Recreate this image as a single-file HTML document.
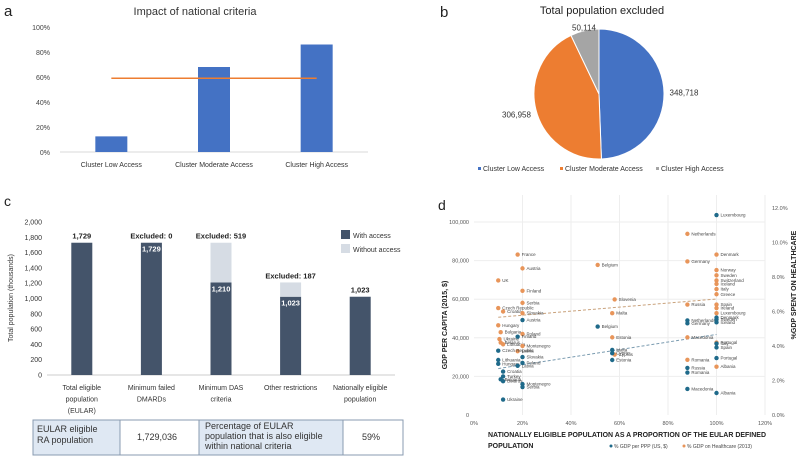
<!DOCTYPE html>
<html><head><meta charset="utf-8">
<style>
body{margin:0;background:#fff;width:800px;height:462px;overflow:hidden;font-family:"Liberation Sans",sans-serif;}
svg{position:absolute;left:0;top:0;}
text{font-family:"Liberation Sans",sans-serif;}
</style></head>
<body>
<svg id="fig" width="800" height="462" viewBox="0 0 800 462" xmlns="http://www.w3.org/2000/svg"></svg>
<script>
// ---------- Panel a data ----------
const aCategories = ["Cluster Low Access","Cluster Moderate Access","Cluster High Access"];
const aValues = [12.5, 68, 86];
const aLineValue = 59;
const aTicks = [0,20,40,60,80,100];
// ---------- Panel b data ----------
const bCategories = ["Cluster Low Access","Cluster Moderate Access","Cluster High Access"];
const bValues = [348718, 306958, 50114];
const bLabels = ["348,718","306,958","50,114"];
// ---------- Panel c data ----------
const cCategories = [["Total eligible","population","(EULAR)"],["Minimum failed","DMARDs"],["Minimum DAS","criteria"],["Other restrictions"],["Nationally eligible","population"]];
const cWith = [1729, 1729, 1210, 1023, 1023];
const cWithout = [0, 0, 519, 187, 0];
const cTopLabels = ["1,729","Excluded: 0","Excluded: 519","Excluded: 187","1,023"];
const cTicks = [0,200,400,600,800,1000,1200,1400,1600,1800,2000];
// ---------- Panel d data ----------
const dBlueNames = ["Luxembourg","Netherlands","Germany","Denmark","Sweden","Iceland","Italy","Spain","Portugal","Albania","Russia","Romania","Macedonia","Belgium","Malta","Cyprus","Estonia","Austria","Finland","Czech Republic","Lithuania","Hungary","Slovakia","Poland","Latvia","Croatia","Turkey","Bulgaria","Belarus","Montenegro","Serbia","Ukraine"];
const dBlueX = [100,88,88,100,100,100,100,100,100,100,88,88,88,51,57,57,57,20,18,10,10,10,20,20,18,12,12,11,12,20,20,12];
const dBlueY = [103.6,49,47.5,50.5,49.5,48,37,35,29.5,11.4,24.4,22,13.5,45.8,33.7,32,28.5,49.2,40.6,33.3,28.5,26.5,30,27,25.5,22.5,20,18.5,17.5,16,14.5,8];
const dOrangeNames = ["Netherlands","Germany","Denmark","Norway","Sweden","Switzerland","Iceland","Italy","Greece","Russia","Spain","Ireland","Luxembourg","Macedonia","Portugal","Romania","Albania","Belgium","Slovenia","Malta","Estonia","Cyprus","France","Austria","UK","Finland","Serbia","Czech Republic","Croatia","Slovakia","Hungary","Bulgaria","Ukraine","Belarus","Lithuania","Poland","Montenegro","Latvia"];
const dOrangeX = [88,88,100,100,100,100,100,100,100,88,100,100,100,88,100,88,100,51,58,57,57,58,18,20,10,20,20,10,12,20,10,11,10.5,11,12,20,20,18];
const dOrangeY = [10.5,8.9,9.3,8.4,8.1,7.8,7.6,7.3,7.0,6.4,6.4,6.2,5.9,4.5,4.2,3.2,2.8,8.7,6.7,5.9,4.5,3.5,9.3,8.5,7.8,7.2,6.5,6.2,6.0,5.9,5.2,4.8,4.4,4.2,4.1,4.7,4.0,3.7];
const dXTicks = [0,20,40,60,80,100,120];
const dLeftTicks = [0,20000,40000,60000,80000,100000];
const dLeftTickLabels = ["0","20,000","40,000","60,000","80,000","100,000"];
const dRightTicks = [0,2,4,6,8,10,12];

const svg = document.getElementById('fig');
const NS = "http://www.w3.org/2000/svg";
function mk(tag, attrs, parent){const e=document.createElementNS(NS,tag);for(const k in attrs)e.setAttribute(k,attrs[k]);(parent||svg).appendChild(e);return e;}
function txt(s, attrs, parent){const e=mk('text',attrs,parent);e.textContent=s;return e;}

// ================= PANEL A =================
const ga = mk('g',{});


const aX0=60,aX1=368,aY0=152,aY100=27;
const ay=v=>aY0+(aY100-aY0)*v/100;
const aBand=(aX1-aX0)/aCategories.length;
const ax=i=>aX0+aBand*(i+0.5);
let t=txt('a',{x:4,y:16,'font-size':15,fill:'#222'},ga);

t=txt('Impact of national criteria',{x:195,y:15,'font-size':11,'text-anchor':'middle',fill:'#333'},ga);

aTicks.forEach(v=>{const l=txt(v+'%',{x:50,y:ay(v)+3,'font-size':7,'text-anchor':'end',fill:'#444'},ga);
});
let ln=mk('line',{x1:aX0,x2:aX1,y1:aY0,y2:aY0,stroke:'#d9d9d9','stroke-width':1},ga);

aValues.forEach((v,i)=>{const r=mk('rect',{x:ax(i)-16,y:ay(v),width:32,height:aY0-ay(v),fill:'#4472c4'},ga);

const l=txt(aCategories[i],{x:ax(i),y:167,'font-size':7,'text-anchor':'middle',fill:'#333'},ga);
});
ln=mk('line',{x1:ax(0),x2:ax(2),y1:ay(aLineValue),y2:ay(aLineValue),stroke:'#ed7d31','stroke-width':1.5},ga);


// ================= PANEL B =================
const gb = mk('g',{});


t=txt('b',{x:440,y:17,'font-size':15,fill:'#222'},gb);

t=txt('Total population excluded',{x:602,y:14,'font-size':11,'text-anchor':'middle',fill:'#222'},gb);

const pcx=599,pcy=94,pr=65;
const bColors=['#4472c4','#ed7d31','#a5a5a5'];
const bTot=bValues.reduce((a,b)=>a+b,0);
let ang=0;
bValues.forEach((v,i)=>{const a0=ang,a1=ang+v/bTot*2*Math.PI;ang=a1;
const p=(a)=>[pcx+pr*Math.sin(a),pcy-pr*Math.cos(a)];
const [x0,y0]=p(a0),[x1,y1]=p(a1);const large=(a1-a0)>Math.PI?1:0;
const s=mk('path',{d:`M${pcx},${pcy}L${x0},${y0}A${pr},${pr} 0 ${large} 1 ${x1},${y1}Z`,fill:bColors[i],stroke:'#fff','stroke-width':1},gb);

const m=(a0+a1)/2;const lr=i===2?pr+3:pr+20;
const lx=pcx+lr*Math.sin(m),ly=pcy-lr*Math.cos(m);
const l=txt(bLabels[i],{x:lx,y:ly+3,'font-size':8,'text-anchor':'middle',fill:'#333'},gb);
});
const bLegX=[478,560,656];
bCategories.forEach((c,i)=>{const d=mk('rect',{x:bLegX[i],y:167,width:3,height:3,fill:bColors[i]},gb);

const l=txt(c,{x:bLegX[i]+5,y:171,'font-size':7,fill:'#333'},gb);
});

// ================= PANEL C =================
const gc = mk('g',{});


t=txt('c',{x:4,y:206,'font-size':14,fill:'#222'},gc);

const cX0=47,cX1=395,cY0=375,cYmax=222;
const cy=v=>cY0+(cYmax-cY0)*v/2000;
const cBand=(cX1-cX0)/cCategories.length;
const cx=i=>cX0+cBand*(i+0.5);
cTicks.forEach(v=>{const l=txt(v.toLocaleString('en-US'),{x:42,y:cy(v)+2.5,'font-size':7,'text-anchor':'end',fill:'#333'},gc);
});
t=txt('Total population (thousands)',{x:0,y:0,'font-size':7,'text-anchor':'middle',fill:'#333',transform:'translate(13,298) rotate(-90)'},gc);

ln=mk('line',{x1:cX0,x2:cX1,y1:cY0,y2:cY0,stroke:'#ccc','stroke-width':1},gc);

cWith.forEach((v,i)=>{const bw=21;
const r=mk('rect',{x:cx(i)-bw/2,y:cy(v),width:bw,height:cY0-cy(v),fill:'#44546a'},gc);

if(cWithout[i]>0){const r2=mk('rect',{x:cx(i)-bw/2,y:cy(v+cWithout[i]),width:bw,height:cy(v)-cy(v+cWithout[i]),fill:'#d6dce4'},gc);
}
const top=cy(v+cWithout[i]);
const l=txt(cTopLabels[i],{x:cx(i),y:top-4,'font-size':7.5,'font-weight':'bold','text-anchor':'middle',fill:'#222'},gc);

if(i>=1&&i<=3){const l2=txt(v.toLocaleString('en-US'),{x:cx(i),y:cy(v)+9,'font-size':7.5,'font-weight':'bold','text-anchor':'middle',fill:'#fff'},gc);
}
cCategories[i].forEach((s,k)=>{const l3=txt(s,{x:cx(i),y:390+k*11.5,'font-size':7,'text-anchor':'middle',fill:'#333'},gc);
});});
let sw=mk('rect',{x:341,y:230,width:9,height:9,fill:'#44546a'},gc);

sw=mk('rect',{x:341,y:244,width:9,height:9,fill:'#d6dce4'},gc);

t=txt('With access',{x:353,y:238,'font-size':7,fill:'#333'},gc);
t=txt('Without access',{x:353,y:252,'font-size':7,fill:'#333'},gc);
// table
const tbl=mk('g',{},gc);
const cols=[33,120,199,343,403],fills=['#dfe8f3','#fff','#dfe8f3','#fff'];
for(let i=0;i<4;i++){const r=mk('rect',{x:cols[i],y:420,width:cols[i+1]-cols[i],height:35,fill:fills[i],stroke:'#8a9bb0','stroke-width':1},tbl);
}
[['EULAR  eligible',37,432],['RA population',37,443],['1,729,036',137,440],['Percentage of EULAR',205,429],['population that is also eligible',205,439],['within national criteria',205,449],['59%',362,440]].forEach(a=>{
const l=txt(a[0],{x:a[1],y:a[2],'font-size':9,fill:'#333'},tbl);});

// ================= PANEL D =================
const gd = mk('g',{});


t=txt('d',{x:438,y:210,'font-size':14,fill:'#222'},gd);

const dX0=474,dPerPct=48.5/20,dY0=415;
const dx=v=>dX0+v*dPerPct;
const dyL=v=>dY0-(dY0-222)*v/100000;
const dyR=v=>dY0-(dY0-208)*v/12;
dXTicks.forEach(v=>{if(v>0){const g=mk('line',{x1:dx(v),x2:dx(v),y1:195,y2:dY0,stroke:'#eee','stroke-width':1},gd);
}
const l=txt(v+'%',{x:dx(v),y:425,'font-size':5.5,'text-anchor':'middle',fill:'#555'},gd);
});
dLeftTicks.forEach((v,i)=>{if(v>0){const g=mk('line',{x1:dx(0),x2:dx(120),y1:dyL(v),y2:dyL(v),stroke:'#eee','stroke-width':1},gd);
}
const l=txt(dLeftTickLabels[i],{x:469,y:dyL(v)+2,'font-size':5.5,'text-anchor':'end',fill:'#555'},gd);
});
dRightTicks.forEach(v=>{const l=txt(v.toFixed(1)+'%',{x:772,y:dyR(v)+2,'font-size':5.5,fill:'#555'},gd);
});
t=txt('GDP PER CAPITA (2015, $)',{x:0,y:0,'font-size':7,'font-weight':'bold','text-anchor':'middle',fill:'#222',transform:'translate(447,325) rotate(-90)'},gd);

t=txt('%GDP SPENT ON HEALTHCARE',{x:0,y:0,'font-size':7,'font-weight':'bold','text-anchor':'middle',fill:'#222',transform:'translate(796,285) rotate(-90)'},gd);

t=txt('NATIONALLY ELIGIBLE POPULATION AS A PROPORTION OF THE EULAR DEFINED',{x:488,y:437,'font-size':7,'font-weight':'bold',fill:'#222',textLength:278,lengthAdjust:'spacingAndGlyphs'},gd);

t=txt('POPULATION',{x:488,y:448,'font-size':7,'font-weight':'bold',fill:'#222'},gd);

// trend lines (least squares from data)
function fit(xs,ys){const n=xs.length,mx=xs.reduce((a,b)=>a+b)/n,my=ys.reduce((a,b)=>a+b)/n;let sxy=0,sxx=0;xs.forEach((x,i)=>{sxy+=(x-mx)*(ys[i]-my);sxx+=(x-mx)**2;});const b=sxy/sxx;return [my-b*mx,b];}
const fo=fit(dOrangeX,dOrangeY),fb=fit(dBlueX,dBlueY);
ln=mk('line',{x1:dx(10),x2:dx(100),y1:dyR(fo[0]+fo[1]*10),y2:dyR(fo[0]+fo[1]*100),stroke:'#c9a27c','stroke-width':1,'stroke-dasharray':'3,2'},gd);

ln=mk('line',{x1:dx(10),x2:dx(100),y1:dyL((fb[0]+fb[1]*10)*1000),y2:dyL((fb[0]+fb[1]*100)*1000),stroke:'#7a9bb0','stroke-width':1,'stroke-dasharray':'3,2'},gd);

dOrangeX.forEach((xv,i)=>{const c=mk('circle',{cx:dx(xv),cy:dyR(dOrangeY[i]),r:2.2,fill:'#e8955a'},gd);

const l=txt(dOrangeNames[i],{x:dx(xv)+4,y:dyR(dOrangeY[i])+1.5,'font-size':4.5,fill:'#444'},gd);
});
dBlueX.forEach((xv,i)=>{const c=mk('circle',{cx:dx(xv),cy:dyL(dBlueY[i]*1000),r:2.2,fill:'#1f6a8a'},gd);

const l=txt(dBlueNames[i],{x:dx(xv)+4,y:dyL(dBlueY[i]*1000)+1.5,'font-size':4.5,fill:'#444'},gd);
});
let c=mk('circle',{cx:611,cy:446,r:1.5,fill:'#1f6a8a'},gd);
t=txt('% GDP per PPP (US, $)',{x:614,y:448,'font-size':5,fill:'#444'},gd);
c=mk('circle',{cx:684,cy:446,r:1.5,fill:'#e8955a'},gd);
t=txt('% GDP on Healthcare (2013)',{x:687,y:448,'font-size':5,fill:'#444'},gd);
</script>
</body></html>
